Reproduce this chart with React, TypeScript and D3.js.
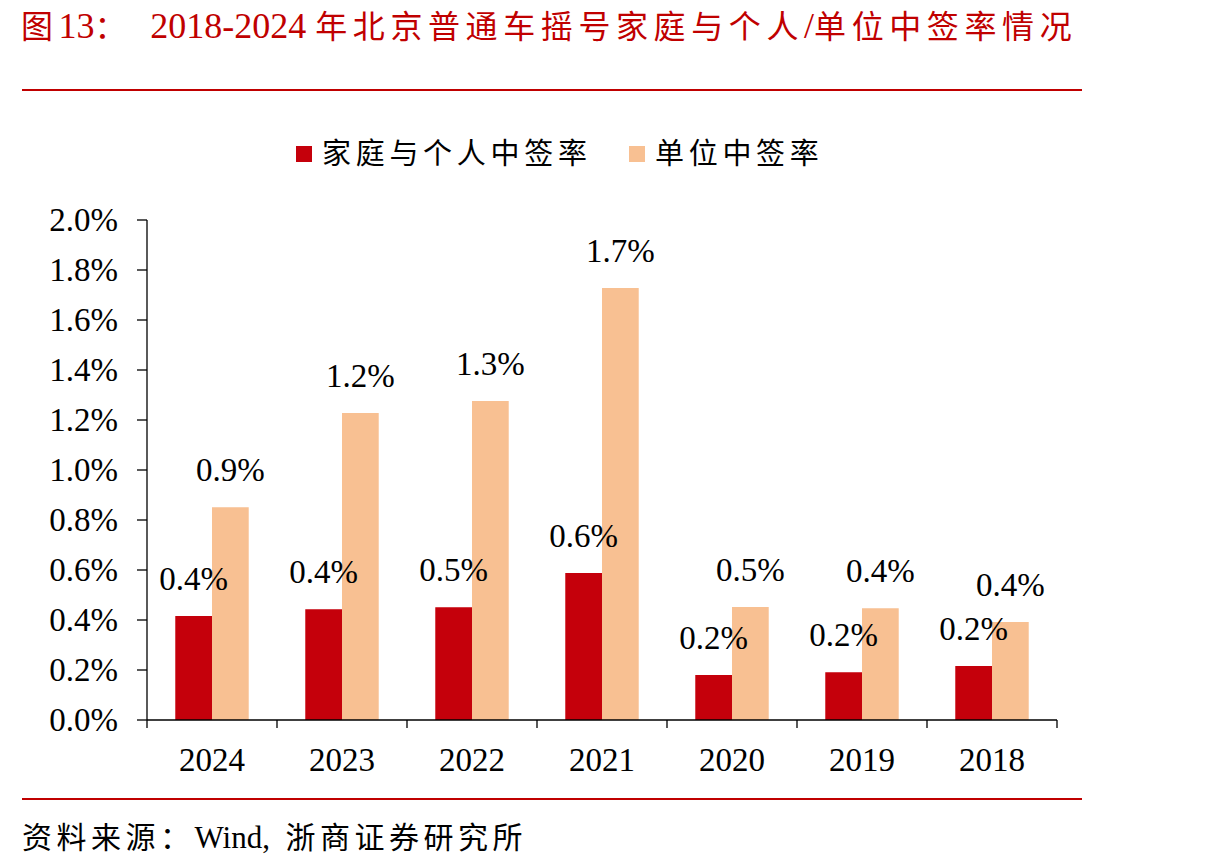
import React from "react";
import * as d3 from "d3";

const YEARS = ["2024", "2023", "2022", "2021", "2020", "2019", "2018"];
// 中签率 (%)
const HOUSEHOLD_RATE = [0.416, 0.443, 0.451, 0.588, 0.18, 0.191, 0.216];
const UNIT_RATE = [0.851, 1.228, 1.276, 1.728, 0.452, 0.447, 0.392];
const SERIES_NAMES = ["家庭与个人中签率", "单位中签率"];
const Y_TICKS = [0, 0.2, 0.4, 0.6, 0.8, 1.0, 1.2, 1.4, 1.6, 1.8, 2.0];

const TITLE = "图13：  2018-2024 年北京普通车摇号家庭与个人/单位中签率情况";
const SOURCE = "资料来源：Wind,  浙商证券研究所";

const RED = "#C5000B";
const ORANGE = "#F8C092";
const TITLE_RED = "#C00000";
const SERIF = "'Liberation Serif', 'Times New Roman', serif";
const CJK = "'Noto Sans CJK SC', 'Noto Sans CJK JP', sans-serif";

const W = 1210;
const H = 868;

// split a string into runs of CJK / non-CJK so each gets its own font
function runs(text: string) {
  const out: { cjk: boolean; s: string }[] = [];
  for (const ch of text) {
    const cjk = /[\u3000-\u303f\u4e00-\u9fff\uff00-\uffef]/.test(ch);
    const last = out[out.length - 1];
    if (last && last.cjk === cjk) last.s += ch;
    else out.push({ cjk, s: ch });
  }
  return out;
}

function MixedText({
  x,
  y,
  text,
  latinSize,
  cjkSize,
  cjkSpacing,
  fill,
}: {
  x: number;
  y: number;
  text: string;
  latinSize: number;
  cjkSize: number;
  cjkSpacing: number;
  fill: string;
}) {
  return (
    <text x={x} y={y} fill={fill} style={{ whiteSpace: "pre" }}>
      {runs(text).map((r, i) => (
        <tspan
          key={i}
          fontFamily={r.cjk ? CJK : SERIF}
          fontSize={r.cjk ? cjkSize : latinSize}
          letterSpacing={r.cjk ? cjkSpacing : 0}
        >
          {r.s}
        </tspan>
      ))}
    </text>
  );
}

export default function App() {
  const plot = { left: 147, right: 1057, top: 220, bottom: 720 };

  const x = d3.scaleBand<string>().domain(YEARS).range([plot.left, plot.right]).padding(0);
  const xs = d3
    .scaleBand<number>()
    .domain([0, 1])
    .range([0, x.step()])
    .paddingInner(0)
    .paddingOuter(0.77);
  const y = d3.scaleLinear().domain([0, 2]).range([plot.bottom, plot.top]);

  const series = [HOUSEHOLD_RATE, UNIT_RATE];
  const colors = [RED, ORANGE];
  const fmt = (v: number) => v.toFixed(1) + "%";

  const boundaries = d3.range(YEARS.length + 1).map((i) => plot.left + i * x.step());

  return (
    <div style={{ position: "fixed", left: 0, top: 0, background: "#fff" }}>
      <svg width={W} height={H} style={{ display: "block" }}>
        <rect width={W} height={H} fill="#fff" />

        {/* title */}
        <MixedText x={21} y={38} text={TITLE} latinSize={36} cjkSize={32} cjkSpacing={5.6} fill={TITLE_RED} />
        <line x1={22} x2={1082} y1={90} y2={90} stroke={TITLE_RED} strokeWidth={2} />

        {/* legend */}
        <g>
          <rect x={296} y={146} width={16} height={16} fill={RED} />
          <text x={322} y={164} fontFamily={CJK} fontSize={29} letterSpacing={4.7} fill="#000">
            {SERIES_NAMES[0]}
          </text>
          <rect x={629} y={146} width={16} height={16} fill={ORANGE} />
          <text x={655} y={164} fontFamily={CJK} fontSize={29} letterSpacing={4.7} fill="#000">
            {SERIES_NAMES[1]}
          </text>
        </g>

        {/* bars */}
        {series.map((vals, si) =>
          vals.map((v, i) => (
            <rect
              key={`${si}-${i}`}
              x={(x(YEARS[i]) ?? 0) + (xs(si) ?? 0)}
              y={y(v)}
              width={xs.bandwidth()}
              height={y(0) - y(v)}
              fill={colors[si]}
            />
          ))
        )}

        {/* value labels */}
        {series.map((vals, si) =>
          vals.map((v, i) => (
            <text
              key={`l-${si}-${i}`}
              x={(x(YEARS[i]) ?? 0) + (xs(si) ?? 0) + xs.bandwidth() / 2}
              y={y(v) - 26}
              textAnchor="middle"
              fontFamily={SERIF}
              fontSize={33}
              fill="#000"
            >
              {fmt(v)}
            </text>
          ))
        )}

        {/* y axis */}
        <line x1={plot.left} x2={plot.left} y1={plot.top} y2={plot.bottom} stroke="#000" strokeWidth={1.3} />
        {Y_TICKS.map((t) => (
          <g key={t}>
            <line x1={plot.left - 10} x2={plot.left} y1={y(t)} y2={y(t)} stroke="#000" strokeWidth={1.3} />
            <text
              x={118}
              y={y(t)}
              dy="0.34em"
              textAnchor="end"
              fontFamily={SERIF}
              fontSize={33}
              fill="#000"
            >
              {fmt(t)}
            </text>
          </g>
        ))}

        {/* x axis */}
        <line x1={plot.left} x2={plot.right} y1={plot.bottom} y2={plot.bottom} stroke="#000" strokeWidth={1.3} />
        {boundaries.map((bx) => (
          <line key={bx} x1={bx} x2={bx} y1={plot.bottom} y2={plot.bottom + 8} stroke="#000" strokeWidth={1.3} />
        ))}
        {YEARS.map((yr) => (
          <text
            key={yr}
            x={(x(yr) ?? 0) + x.bandwidth() / 2}
            y={771}
            textAnchor="middle"
            fontFamily={SERIF}
            fontSize={33}
            fill="#000"
          >
            {yr}
          </text>
        ))}

        {/* source */}
        <line x1={22} x2={1082} y1={799} y2={799} stroke={TITLE_RED} strokeWidth={2} />
        <MixedText x={22} y={848} text={SOURCE} latinSize={31} cjkSize={30} cjkSpacing={4.5} fill="#000" />
      </svg>
    </div>
  );
}
